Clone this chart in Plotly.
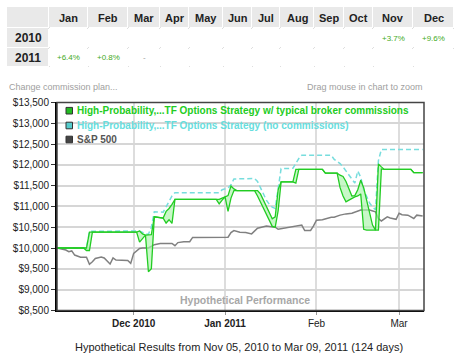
import plotly.graph_objects as go

W, H = 459, 357

# ---------------- data ----------------
months = ["Jan", "Feb", "Mar", "Apr", "May", "Jun", "Jul", "Aug", "Sep", "Oct", "Nov", "Dec"]
years = ["2010", "2011"]
returns_2010 = ["", "", "", "", "", "", "", "", "", "", "+3.7%", "+9.6%"]
returns_2011 = ["+6.4%", "+0.8%", "-", "", "", "", "", "", "", "", "", ""]

green_dates = ["2010-11-05", "2010-11-14", "2010-11-15", "2010-11-16", "2010-11-17", "2010-12-02",
               "2010-12-03", "2010-12-04", "2010-12-05", "2010-12-06", "2010-12-07", "2010-12-08",
               "2010-12-11", "2010-12-12", "2010-12-13", "2010-12-14", "2010-12-15", "2010-12-29",
               "2010-12-30", "2010-12-31", "2011-01-01", "2011-01-02", "2011-01-03", "2011-01-04",
               "2011-01-05", "2011-01-11", "2011-01-12", "2011-01-13", "2011-01-14", "2011-01-15",
               "2011-01-16", "2011-01-17", "2011-01-18", "2011-01-19", "2011-01-20", "2011-01-24",
               "2011-01-25", "2011-01-26", "2011-02-03", "2011-02-04", "2011-02-08", "2011-02-09",
               "2011-02-10", "2011-02-11", "2011-02-12", "2011-02-13", "2011-02-14", "2011-02-15",
               "2011-02-16", "2011-02-17", "2011-02-18", "2011-02-19", "2011-02-20", "2011-02-21",
               "2011-02-22", "2011-02-23", "2011-02-24", "2011-03-05", "2011-03-06", "2011-03-09"]
green_hi = [10000, 10000, 10000, 10380, 10380, 10380,
            10410, 10340, 10310, 10310, 10320, 10750,
            10720, 10880, 10950, 11050, 11170, 11170,
            11170, 11200, 11230, 11260, 11490, 11420,
            11380, 11380, 11380, 11300, 11150, 11000,
            10850, 10700, 10750, 11400, 11590, 11590,
            11890, 11890, 11890, 11800, 11800, 11750,
            11720, 11600, 11400, 11250, 11260, 11400,
            11630, 11450, 11150, 10850, 10550, 10430,
            12020, 11950, 11890, 11890, 11810, 11810]
green_lo = [10000, 10000, 9940, 9940, 10380, 10380,
            10140, 10230, 10310, 9430, 9500, 10750,
            10720, 10600, 10680, 10590, 11170, 11170,
            11060, 11150, 11230, 10880, 11200, 11380,
            11380, 11380, 11250, 11100, 10950, 10800,
            10650, 10520, 10500, 10900, 11590, 11590,
            11560, 11890, 11890, 11800, 11800, 11450,
            11250, 11110, 11150, 11200, 11230, 11250,
            11300, 10450, 10430, 10430, 10430, 10430,
            10430, 11900, 11890, 11890, 11810, 11810]

cyan_dates = ["2010-11-05", "2010-11-15", "2010-11-16", "2010-12-02", "2010-12-03", "2010-12-05",
              "2010-12-06", "2010-12-07", "2010-12-08", "2010-12-11", "2010-12-12", "2010-12-14",
              "2010-12-15", "2010-12-30", "2010-12-31", "2011-01-02", "2011-01-03", "2011-01-04",
              "2011-01-11", "2011-01-12", "2011-01-13", "2011-01-14", "2011-01-15", "2011-01-16",
              "2011-01-17", "2011-01-18", "2011-01-19", "2011-01-20", "2011-01-24", "2011-01-25",
              "2011-01-26", "2011-01-27", "2011-02-06", "2011-02-07", "2011-02-08", "2011-02-09",
              "2011-02-10", "2011-02-11", "2011-02-12", "2011-02-13", "2011-02-14", "2011-02-15",
              "2011-02-16", "2011-02-17", "2011-02-18", "2011-02-19", "2011-02-20", "2011-02-21",
              "2011-02-22", "2011-02-23", "2011-03-09"]
cyan_vals = [10000, 10000, 10400, 10400, 10410, 10340,
             10330, 10500, 10870, 10860, 11000, 11250,
             11330, 11330, 11400, 11440, 11520, 11660,
             11670, 11600, 11450, 11300, 11150, 11050,
             10980, 10950, 11500, 11910, 11915, 12050,
             12150, 12230, 12230, 12130, 12080, 12030,
             11950, 11850, 11750, 11650, 11560, 11850,
             11700, 11400, 11250, 11080, 10990, 10920,
             12100, 12370, 12370]

sp_dates = ["2010-11-05", "2010-11-08", "2010-11-09", "2010-11-10", "2010-11-11", "2010-11-13",
            "2010-11-15", "2010-11-16", "2010-11-17", "2010-11-18", "2010-11-20", "2010-11-21",
            "2010-11-23", "2010-11-24", "2010-11-25", "2010-11-27", "2010-11-29", "2010-11-30",
            "2010-12-01", "2010-12-03", "2010-12-04", "2010-12-06", "2010-12-08", "2010-12-10",
            "2010-12-14", "2010-12-15", "2010-12-16", "2010-12-18", "2010-12-20", "2010-12-21",
            "2010-12-27", "2011-01-02", "2011-01-03", "2011-01-04", "2011-01-06", "2011-01-08",
            "2011-01-10", "2011-01-12", "2011-01-15", "2011-01-18", "2011-01-19", "2011-01-21",
            "2011-01-24", "2011-01-27", "2011-01-28", "2011-01-30", "2011-01-31", "2011-02-01",
            "2011-02-03", "2011-02-06", "2011-02-07", "2011-02-09", "2011-02-11", "2011-02-13",
            "2011-02-16", "2011-02-19", "2011-02-21", "2011-02-22", "2011-02-23", "2011-02-25",
            "2011-02-26", "2011-02-28", "2011-03-01", "2011-03-02", "2011-03-04", "2011-03-06",
            "2011-03-07", "2011-03-09"]
sp_vals = [10000, 9950, 9910, 9930, 9830, 9780,
           9780, 9610, 9670, 9750, 9785, 9760,
           9615, 9760, 9710, 9710, 9700, 9630,
           9870, 9990, 10000, 10000, 10080, 10110,
           10110, 10055, 10130, 10150, 10150, 10255,
           10250, 10260, 10370, 10420, 10380, 10370,
           10340, 10475, 10530, 10500, 10450, 10475,
           10500, 10550, 10420, 10420, 10530, 10670,
           10680, 10740, 10740, 10790, 10820, 10835,
           10915, 10915, 10870, 10710, 10650, 10750,
           10720, 10690, 10835, 10800, 10790, 10710,
           10790, 10770]

y_ticks = [8500, 9000, 9500, 10000, 10500, 11000, 11500, 12000, 12500, 13000, 13500]
y_ticktext = ["${:,}".format(v) for v in y_ticks]
x_tickvals = ["2010-12-01", "2011-01-01", "2011-02-01", "2011-03-01"]
x_ticktext = ["<b>Dec 2010</b>", "<b>Jan 2011</b>", "Feb", "Mar"]

series_names = ["High-Probability,...TF Options Strategy w/ typical broker commissions",
                "High-Probability,...TF Options Strategy (no commissions)",
                "S&P 500"]
series_colors = ["#22cc22", "#66dddd", "#555555"]
swatch_colors = ["#22bb22", "#55cccc", "#444444"]

# table geometry (layout only)
col_widths = [42, 39, 40, 32, 29, 34, 29, 28, 34, 30, 29, 40, 41]
row_heights = [21, 20, 19]

# ---------------- helpers ----------------
def px(x):
    return x / W

def py(y):
    return 1 - y / H

FONT = "Liberation Sans, Arial, sans-serif"

fig = go.Figure()

# ---- summary table drawn as a heatmap grid on its own axes ----
col_edges = [0]
for w in col_widths:
    col_edges.append(col_edges[-1] + w)
row_edges = [0]
for h in row_heights:
    row_edges.append(row_edges[-1] + h)
col_centers = [(a + b) / 2 for a, b in zip(col_edges[:-1], col_edges[1:])]
row_centers = [(a + b) / 2 for a, b in zip(row_edges[:-1], row_edges[1:])]

z = [[1] * 13] + [[1] + [0] * 12 for _ in years]
fig.add_trace(go.Heatmap(x=col_edges, y=row_edges, z=z, xaxis="x2", yaxis="y2",
                         colorscale=[[0, "#ffffff"], [1, "#e9e9e9"]], zmin=0, zmax=1,
                         showscale=False, xgap=1, ygap=1, hoverinfo="skip"))

# header labels
for m, cx in zip(months, col_centers[1:]):
    fig.add_annotation(xref="x2", yref="y2", x=cx, y=row_centers[0], text="<b>%s</b>" % m,
                       showarrow=False, font=dict(family=FONT, size=11, color="#222222"))
# year labels and values
for yr, cy, vals in zip(years, row_centers[1:], [returns_2010, returns_2011]):
    fig.add_annotation(xref="x2", yref="y2", x=col_centers[0], y=cy, text="<b>%s</b>" % yr,
                       showarrow=False, font=dict(family=FONT, size=12, color="#222222"))
    for v, cx in zip(vals, col_centers[1:]):
        if v:
            fig.add_annotation(xref="x2", yref="y2", x=cx, y=cy, text=v, showarrow=False,
                               font=dict(family=FONT, size=8,
                                         color="#999999" if v == "-" else "#44aa22"))

# ---- chart series ----
fig.add_trace(go.Scatter(x=sp_dates, y=sp_vals, mode="lines", name=series_names[2],
                         line=dict(color="#808080", width=1.5), showlegend=False))
fig.add_trace(go.Scatter(x=cyan_dates, y=cyan_vals, mode="lines", name=series_names[1],
                         line=dict(color="#77dddd", width=1.5, dash="5px,3px"), showlegend=False))
fig.add_trace(go.Scatter(x=green_dates, y=green_lo, mode="lines", name=series_names[0] + " (low)",
                         line=dict(color="#22cc22", width=1.3), showlegend=False))
fig.add_trace(go.Scatter(x=green_dates, y=green_hi, mode="lines", name=series_names[0],
                         line=dict(color="#22cc22", width=1.3), fill="tonexty",
                         fillcolor="rgba(170,245,170,0.65)", showlegend=False))

fig.update_layout(
    width=W, height=H,
    margin=dict(l=0, r=0, t=0, b=0),
    paper_bgcolor="white", plot_bgcolor="white",
    showlegend=False,
    xaxis=dict(domain=[px(57), px(424)], type="date",
               range=["2010-11-05", "2011-03-09 11:00"],
               tickvals=x_tickvals, ticktext=x_ticktext,
               showgrid=True, gridcolor="#dddddd", gridwidth=1.5,
               ticks="outside", ticklen=3, tickcolor="#999999",
               showline=True, linecolor="#000000", linewidth=2,
               tickfont=dict(family=FONT, size=10, color="#222222"),
               automargin=False, fixedrange=True),
    yaxis=dict(domain=[py(310.4), py(102.4)], range=[8500, 13500],
               tickmode="array", tickvals=y_ticks, ticktext=y_ticktext,
               showgrid=True, gridcolor="#d6d6d6", gridwidth=1.5,
               ticks="outside", ticklen=4, tickcolor="#333333",
               showline=True, linecolor="#000000", linewidth=2,
               tickfont=dict(family=FONT, size=10, color="#222222"),
               zeroline=False, automargin=False, fixedrange=True),
    xaxis2=dict(domain=[px(7), px(454)], range=[0, col_edges[-1]], anchor="y2",
                tickvals=col_edges, showticklabels=False, ticks="",
                showgrid=True, gridcolor="#dedede", gridwidth=1, zeroline=False,
                showline=False, fixedrange=True),
    yaxis2=dict(domain=[py(7 + row_edges[-1]), py(7)], range=[row_edges[-1], 0], anchor="x2",
                tickvals=row_edges, showticklabels=False, ticks="",
                showgrid=True, gridcolor="#dedede", gridwidth=1, zeroline=False,
                showline=False, fixedrange=True),
)

# plot frame (top/right)
fig.add_shape(type="rect", xref="x domain", yref="y domain", x0=0, x1=1, y0=0, y1=1,
              line=dict(color="#444444", width=1.5), layer="above")

# legend (drawn as swatches + coloured labels)
leg_y = [110.7, 125.5, 139.5]
for name, col, sw, yy in zip(series_names, series_colors, swatch_colors, leg_y):
    fig.add_shape(type="rect", xref="paper", yref="paper",
                  x0=px(66), x1=px(72.5), y0=py(yy + 3.3), y1=py(yy - 3.3),
                  fillcolor=sw, line=dict(color="#333333", width=1), layer="above")
    fig.add_annotation(xref="paper", yref="paper", x=px(75), y=py(yy), xanchor="left", yanchor="middle",
                       text="<b>%s</b>" % name, showarrow=False,
                       font=dict(family=FONT, size=10, color=col))

# other texts
fig.add_annotation(xref="paper", yref="paper", x=px(245), y=py(300), xanchor="center", yanchor="middle",
                   text="<b>Hypothetical Performance</b>", showarrow=False,
                   font=dict(family=FONT, size=10.5, color="#a8a8a8"))
fig.add_annotation(xref="paper", yref="paper", x=px(7), y=py(87), xanchor="left", yanchor="middle",
                   text="Change commission plan...", showarrow=False,
                   font=dict(family=FONT, size=9, color="#a0a0a0"))
fig.add_annotation(xref="paper", yref="paper", x=px(425), y=py(87), xanchor="right", yanchor="middle",
                   text="Drag mouse in chart to zoom", showarrow=False,
                   font=dict(family=FONT, size=9, color="#a0a0a0"))
fig.add_annotation(xref="paper", yref="paper", x=px(239), y=py(347), xanchor="center", yanchor="middle",
                   text="Hypothetical Results from Nov 05, 2010 to Mar 09, 2011 (124 days)", showarrow=False,
                   font=dict(family=FONT, size=11, color="#222222"))

fig.write_html("out.html", config=dict(displayModeBar=False))
